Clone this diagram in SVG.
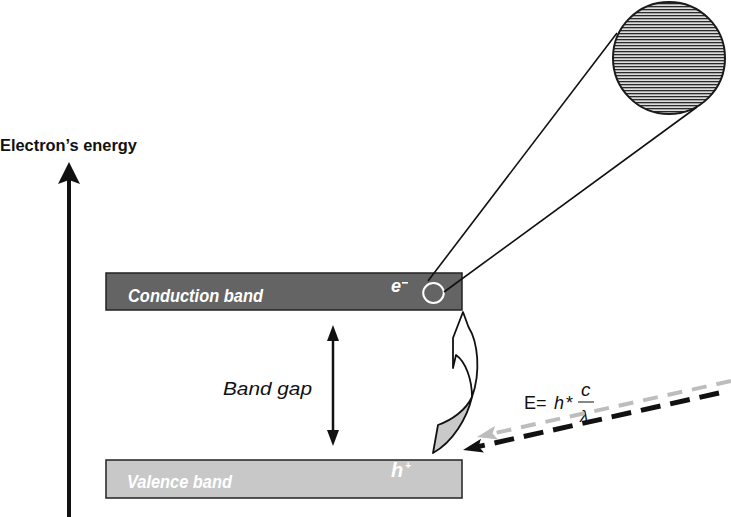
<svg xmlns="http://www.w3.org/2000/svg" width="731" height="517" viewBox="0 0 731 517">
  <style>
    .band { stroke: #222; stroke-width: 1.5; }
    .bandlabel { font-family: "Liberation Sans", Arial, sans-serif; font-weight: bold; font-style: italic; fill: #ffffff; }
    .lbl { font-family: "Liberation Sans", Arial, sans-serif; fill: #111; }
    .thin { stroke: #111; stroke-width: 1.6; fill: none; }
  </style>
  <defs>
    <pattern id="stripes" x="0" y="0" width="8" height="3" patternUnits="userSpaceOnUse">
      <rect x="0" y="0" width="8" height="3" fill="#dcdcdc"/>
      <rect x="0" y="0" width="8" height="1.3" fill="#2a2a2a"/>
    </pattern>
    <marker id="headBlack" viewBox="0 0 20 14" refX="8" refY="7" markerWidth="20" markerHeight="14" markerUnits="userSpaceOnUse" orient="auto">
      <path d="M0,0 L20,7 L0,14 L4,7 Z" fill="#111"/>
    </marker>
    <marker id="headGray" viewBox="0 0 20 14" refX="8" refY="7" markerWidth="20" markerHeight="14" markerUnits="userSpaceOnUse" orient="auto">
      <path d="M0,0 L20,7 L0,14 L4,7 Z" fill="#bdbdbd"/>
    </marker>
  </defs>

  <g id="energy-axis">
    <text class="lbl" x="0" y="151" font-size="17" font-weight="bold" textLength="137" lengthAdjust="spacingAndGlyphs">Electron’s energy</text>
    <line x1="69" y1="517" x2="69" y2="178" stroke="#111" stroke-width="4"/>
    <path d="M69,162 L80,184 L69,180 L58,184 Z" fill="#111"/>
  </g>

  <g id="conduction-band">
    <rect class="band" x="106" y="273" width="356" height="37" fill="#646464"/>
    <text class="bandlabel" x="128" y="302" font-size="17.5" textLength="135" lengthAdjust="spacingAndGlyphs">Conduction band</text>
    <text class="bandlabel" x="391" y="292" font-size="18">e</text>
    <rect x="402" y="282" width="6" height="1.6" fill="#fff"/>
    <ellipse cx="433.5" cy="293" rx="10.3" ry="10" fill="none" stroke="#fff" stroke-width="2"/>
  </g>

  <g id="valence-band">
    <rect class="band" x="106" y="460" width="356" height="38" fill="#c8c8c8"/>
    <text class="bandlabel" x="127" y="488" font-size="17.5" textLength="105" lengthAdjust="spacingAndGlyphs">Valence band</text>
    <text class="bandlabel" x="391" y="477" font-size="20">h</text>
    <text class="bandlabel" x="405" y="469" font-size="10">+</text>
  </g>

  <g id="band-gap">
    <text class="lbl" x="223" y="395" font-size="19" font-style="italic" textLength="89" lengthAdjust="spacingAndGlyphs">Band gap</text>
    <line x1="333" y1="336" x2="333" y2="436" stroke="#111" stroke-width="2.5"/>
    <path d="M333,325 L339,341 L327,341 Z" fill="#111"/>
    <path d="M333,446 L339,430 L327,430 Z" fill="#111"/>
  </g>

  <g id="zoom-circle">
    <circle cx="669" cy="58" r="56" fill="url(#stripes)" stroke="#1a1a1a" stroke-width="2"/>
  </g>

  <g id="curved-arrow">
    <path d="M472,397 C467,418 453,442 433,453 L438,425 C452,420 466,410 472,397 Z" fill="#c9c9c9" stroke="#111" stroke-width="1.8" stroke-linejoin="round"/>
    <path d="M463,312 L468.5,327 C478,342 481,372 472,397 C472,380 466,362 456,355 L453,368 L453,338 Z" fill="#fff" stroke="#111" stroke-width="1.8" stroke-linejoin="round"/>
  </g>

  <g id="photon">
    <text class="lbl" x="524" y="409" font-size="18">E=</text>
    <text class="lbl" x="554" y="409" font-size="18" font-style="italic">h</text>
    <text class="lbl" x="566" y="409" font-size="18">*</text>
    <text class="lbl" x="581" y="396" font-size="19" font-style="italic">c</text>
    <line x1="578" y1="402" x2="594" y2="402" stroke="#111" stroke-width="1"/>
    <text class="lbl" x="580" y="422" font-size="17" font-style="italic">λ</text>
  </g>

  <g id="connectors">
    <line class="thin" x1="428" y1="281" x2="617" y2="33"/>
    <line class="thin" x1="444" y1="292" x2="697" y2="107"/>
    <line x1="731" y1="381" x2="488.7" y2="434.4" stroke="#bdbdbd" stroke-width="4" stroke-dasharray="15 10" marker-end="url(#headGray)"/>
    <line x1="719" y1="393" x2="474.7" y2="447.4" stroke="#111" stroke-width="5" stroke-dasharray="20 10" marker-end="url(#headBlack)"/>
  </g>
</svg>
